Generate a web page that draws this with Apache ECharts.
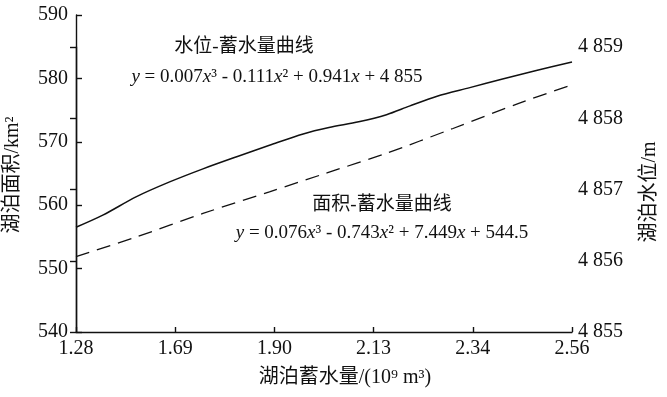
<!DOCTYPE html>
<html>
<head>
<meta charset="utf-8">
<script src="https://cdn.jsdelivr.net/npm/echarts@6/dist/echarts.min.js"></script>
<style>
  html, body { margin: 0; padding: 0; background: #fff; }
  #chart { width: 667px; height: 397px; }
</style>
</head>
<body>
<div id="chart"></div>
<script>
// x 轴刻度（等间距排列）
const xLabels = ['1.28', '1.69', '1.90', '2.13', '2.34', '2.56']
const areaTicks = [540, 550, 560, 570, 580, 590]
const levelTicks = [4855, 4856, 4857, 4858, 4859]

// 面积-蓄水量曲线（左轴），x 为刻度序号位置
const areaX = [0, 0.61, 1.28, 1.95, 2.53, 3.13, 3.80, 4.47, 5]
const areaY = [551.9, 555.0, 558.7, 562.1, 565.1, 568.2, 572.1, 576.1, 579.0]

// 水位-蓄水量曲线（右轴）
const levelX = [0, 0.27, 0.61, 0.95, 1.28, 1.62, 1.95, 2.29, 2.55, 2.85, 3.13, 3.36, 3.64, 3.97, 4.30, 4.64, 5]
const levelY = [4856.47, 4856.64, 4856.90, 4857.11, 4857.29, 4857.46, 4857.62, 4857.78, 4857.87, 4857.95, 4858.05, 4858.17, 4858.31, 4858.43, 4858.55, 4858.67, 4858.79]

const FONT = '"Liberation Serif", "Times New Roman", "Noto Sans CJK SC", serif'
const BLACK = '#111'

const chart = echarts.init(document.getElementById('chart'), null, { renderer: 'canvas' })

const zip = (xs, ys) => xs.map((x, i) => [x, ys[i]])

let option = {
  backgroundColor: '#fff',
  animation: false,
  grid: [
    { left: 76, right: 95, top: 15, bottom: 65, containLabel: false, outerBoundsMode: 'none' },
    { left: 76, right: 95, top: 47, bottom: 65, containLabel: false, outerBoundsMode: 'none' }
  ],
  xAxis: [{
    type: 'value',
    gridIndex: 0,
    min: 0,
    max: xLabels.length - 1,
    interval: 1,
    axisLine: { lineStyle: { color: BLACK, width: 1.4 } },
    axisTick: { inside: true, length: 5, lineStyle: { color: BLACK, width: 1.4 } },
    splitLine: { show: false },
    axisLabel: {
      margin: 7,
      color: BLACK,
      fontSize: 20,
      fontFamily: FONT,
      formatter: v => xLabels[Math.round(v)]
    }
  }, {
    type: 'value',
    gridIndex: 1,
    min: 0,
    max: xLabels.length - 1,
    show: false
  }],
  yAxis: [{
    type: 'value',
    gridIndex: 0,
    position: 'left',
    min: areaTicks[0],
    max: areaTicks[areaTicks.length - 1],
    interval: areaTicks[1] - areaTicks[0],
    axisLine: { show: true, lineStyle: { color: BLACK, width: 1.4 } },
    axisTick: { show: true, inside: true, length: 6, lineStyle: { color: BLACK, width: 1.4 } },
    splitLine: { show: false },
    axisLabel: { margin: 8, color: BLACK, fontSize: 20, fontFamily: FONT }
  }, {
    type: 'value',
    gridIndex: 1,
    position: 'right',
    min: levelTicks[0],
    max: levelTicks[levelTicks.length - 1],
    interval: levelTicks[1] - levelTicks[0],
    axisLine: { show: true, lineStyle: { color: BLACK, width: 1.4 } },
    axisTick: { show: true, inside: true, length: 6, lineStyle: { color: BLACK, width: 1.4 } },
    splitLine: { show: false },
    axisLabel: {
      margin: 6,
      color: BLACK,
      fontSize: 20,
      fontFamily: FONT,
      formatter: v => String(v).replace(/^(\d)/, '$1 ')
    }
  }],
  series: [{
    name: '面积-蓄水量曲线',
    type: 'line',
    xAxisIndex: 0,
    yAxisIndex: 0,
    smooth: 0.3,
    symbol: 'none',
    lineStyle: { color: BLACK, width: 1.3, type: [14, 8] },
    data: zip(areaX, areaY)
  }, {
    name: '水位-蓄水量曲线',
    type: 'line',
    xAxisIndex: 1,
    yAxisIndex: 1,
    smooth: 0.3,
    symbol: 'none',
    lineStyle: { color: BLACK, width: 1.5 },
    data: zip(levelX, levelY)
  }],
  graphic: [
    // 轴名称
    { type: 'text', x: 13, y: 175, rotation: Math.PI / 2,
      style: { text: '湖泊面积/km²', fill: BLACK, font: '20px ' + FONT, align: 'center', verticalAlign: 'middle' } },
    { type: 'text', x: 650, y: 192, rotation: Math.PI / 2,
      style: { text: '湖泊水位/m', fill: BLACK, font: '20px ' + FONT, align: 'center', verticalAlign: 'middle' } },
    { type: 'text', x: 345, y: 378,
      style: { text: '湖泊蓄水量/(10⁹ m³)', fill: BLACK, font: '20px ' + FONT, align: 'center', verticalAlign: 'middle' } },
    // 曲线说明
    { type: 'text', x: 244, y: 47,
      style: { text: '水位-蓄水量曲线', fill: BLACK, font: '19px ' + FONT, align: 'center', verticalAlign: 'middle' } },
    { type: 'text', x: 277, y: 77,
      style: {
        text: '{i|y} = 0.007{i|x}³ - 0.111{i|x}² + 0.941{i|x} + 4 855',
        fill: BLACK, font: '19px ' + FONT, align: 'center', verticalAlign: 'middle',
        rich: { i: { fontStyle: 'italic', fontSize: 19, fontFamily: FONT, fill: BLACK } }
      } },
    { type: 'text', x: 382, y: 205,
      style: { text: '面积-蓄水量曲线', fill: BLACK, font: '19px ' + FONT, align: 'center', verticalAlign: 'middle' } },
    { type: 'text', x: 382, y: 233,
      style: {
        text: '{i|y} = 0.076{i|x}³ - 0.743{i|x}² + 7.449{i|x} + 544.5',
        fill: BLACK, font: '19px ' + FONT, align: 'center', verticalAlign: 'middle',
        rich: { i: { fontStyle: 'italic', fontSize: 19, fontFamily: FONT, fill: BLACK } }
      } }
  ]
}

chart.setOption(option)
</script>
</body>
</html>
